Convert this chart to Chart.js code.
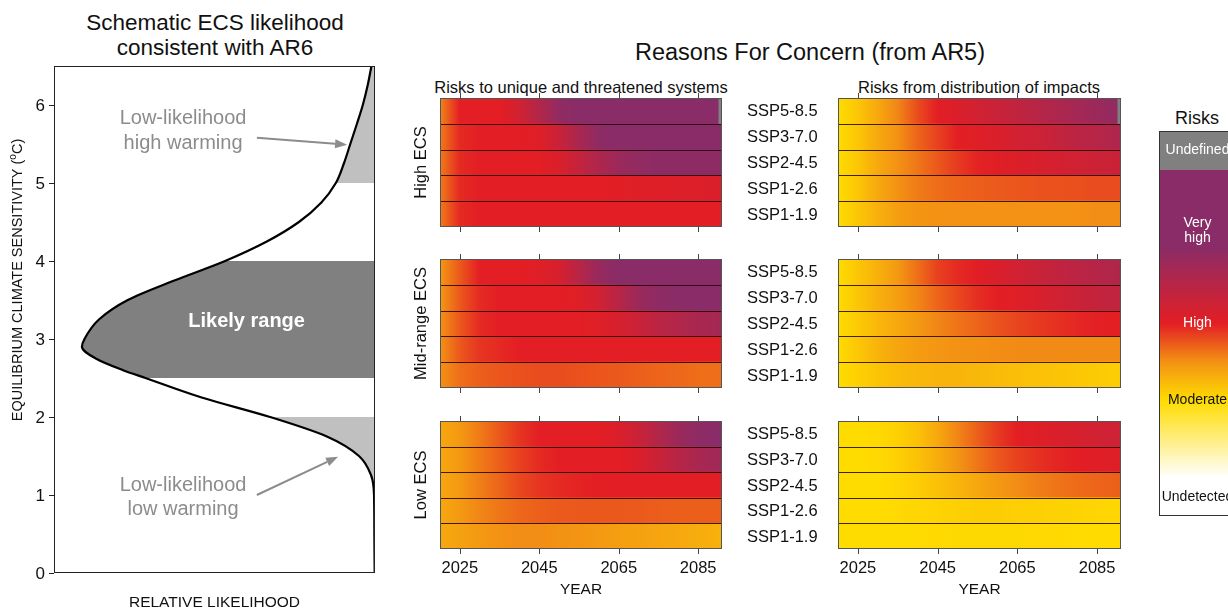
<!DOCTYPE html>
<html lang="en">
<head>
<meta charset="utf-8">
<title>ECS likelihood and Reasons For Concern</title>
<script src="https://cdn.jsdelivr.net/npm/chart.js@4"></script>
<style>
html,body{margin:0;padding:0;background:#fff;overflow:hidden}
#page{position:relative;width:1228px;height:611px;overflow:hidden;font-family:"Liberation Sans",Arial,Helvetica,sans-serif;color:#111}
#page canvas{position:absolute;left:0;top:0}
.t{position:absolute;white-space:nowrap;transform:translate(-50%,-50%);line-height:1}
</style>
</head>
<body>
<div id="page">
	<div class="t" style="left:215px;top:23px;font-size:22.5px">Schematic ECS likelihood</div>
	<div class="t" style="left:215px;top:48px;font-size:22.5px">consistent with AR6</div>
	<div class="t" style="left:810px;top:53px;font-size:23.5px">Reasons For Concern (from AR5)</div>
	<div class="t" style="left:581px;top:87px;font-size:16.5px">Risks to unique and threatened systems</div>
	<div class="t" style="left:979px;top:87px;font-size:16.5px">Risks from distribution of impacts</div>
	<div class="t" style="left:1197px;top:118px;font-size:18px">Risks</div>
</div>
<script>
// ---------------------- Data ----------------------
// left panel: schematic ECS likelihood (relative, 0..1 of panel width)
const ECS_LEVELS = [0, 0.5, 1.0, 1.25, 1.5, 1.75, 2.0, 2.25, 2.5, 2.6, 2.75, 2.9, 3.0, 3.25, 3.5, 3.75, 4.0, 4.25, 4.5, 4.75, 5.0, 5.25, 5.5, 5.75, 6.0, 6.25, 6.5];
const LIKELIHOOD = [0.001, 0.002, 0.003, 0.012, 0.05, 0.15, 0.327, 0.54, 0.715, 0.785, 0.87, 0.913, 0.905, 0.86, 0.77, 0.625, 0.467, 0.337, 0.237, 0.167, 0.122, 0.097, 0.077, 0.057, 0.038, 0.023, 0.011];
const ECS_TICKS = [0, 1, 2, 3, 4, 5, 6];

// Reasons For Concern heatmaps, risk level 0 undetected .. 1 moderate .. 2 high .. 3 very high
const YEARS = [2020, 2025, 2030, 2035, 2040, 2045, 2050, 2055, 2060, 2065, 2070, 2075, 2080, 2085, 2090];
const TICK_YEARS = [2025, 2045, 2065, 2085];
const SSP_LABELS = ['SSP5-8.5', 'SSP3-7.0', 'SSP2-4.5', 'SSP1-2.6', 'SSP1-1.9'];
const ECS_ROWS = ['High ECS', 'Mid-range ECS', 'Low ECS'];

const HIGH_UNIQUE = [
	[1.55, 2.0, 2.0, 2.0, 2.2, 2.55, 2.9, 3.0, 3.0, 3.0, 3.0, 3.0, 3.0, 3.0, 3.0],
	[1.6, 1.95, 2.0, 2.0, 2.0, 2.05, 2.3, 2.65, 2.95, 3.0, 3.0, 3.0, 3.0, 3.0, 3.0],
	[1.6, 1.95, 2.0, 2.0, 2.0, 2.0, 2.1, 2.35, 2.6, 2.8, 2.9, 2.95, 2.95, 2.95, 2.95],
	[1.6, 1.95, 2.0, 2.0, 2.0, 2.0, 2.0, 2.0, 2.0, 2.02, 2.04, 2.05, 2.07, 2.08, 2.1],
	[1.6, 1.95, 2.0, 2.0, 2.0, 2.0, 2.0, 2.0, 2.0, 2.0, 2.0, 2.0, 2.0, 2.0, 2.0],
];
const HIGH_DIST = [
	[1.0, 1.15, 1.35, 1.55, 1.8, 2.0, 2.1, 2.2, 2.3, 2.4, 2.5, 2.6, 2.7, 2.8, 2.9],
	[1.0, 1.15, 1.35, 1.5, 1.7, 1.85, 2.0, 2.05, 2.1, 2.2, 2.25, 2.35, 2.45, 2.5, 2.6],
	[1.0, 1.15, 1.35, 1.5, 1.62, 1.75, 1.88, 1.98, 2.03, 2.08, 2.12, 2.17, 2.22, 2.27, 2.3],
	[1.0, 1.15, 1.35, 1.5, 1.6, 1.66, 1.7, 1.72, 1.74, 1.76, 1.77, 1.78, 1.79, 1.8, 1.8],
	[1.0, 1.15, 1.3, 1.42, 1.48, 1.5, 1.5, 1.5, 1.5, 1.5, 1.5, 1.5, 1.5, 1.52, 1.52],
];
const MID_UNIQUE = [
	[1.45, 1.75, 2.0, 2.0, 2.0, 2.05, 2.15, 2.5, 2.85, 3.0, 3.0, 3.0, 3.0, 3.0, 3.0],
	[1.45, 1.75, 1.95, 2.0, 2.0, 2.0, 2.0, 2.05, 2.2, 2.5, 2.8, 2.95, 3.0, 3.0, 3.0],
	[1.5, 1.75, 1.95, 2.0, 2.0, 2.0, 2.0, 2.0, 2.05, 2.15, 2.3, 2.45, 2.55, 2.65, 2.7],
	[1.5, 1.75, 1.9, 1.95, 2.0, 2.0, 2.0, 2.0, 2.0, 2.0, 2.0, 2.0, 2.0, 2.0, 2.0],
	[1.5, 1.65, 1.72, 1.76, 1.78, 1.8, 1.8, 1.78, 1.76, 1.75, 1.72, 1.7, 1.68, 1.66, 1.65],
];
const MID_DIST = [
	[1.0, 1.15, 1.3, 1.45, 1.65, 1.85, 1.95, 2.02, 2.1, 2.2, 2.3, 2.38, 2.45, 2.52, 2.58],
	[1.0, 1.15, 1.3, 1.42, 1.55, 1.7, 1.82, 1.93, 2.0, 2.05, 2.12, 2.2, 2.28, 2.35, 2.4],
	[1.0, 1.12, 1.25, 1.35, 1.45, 1.55, 1.63, 1.7, 1.77, 1.83, 1.88, 1.92, 1.96, 1.99, 2.0],
	[1.0, 1.14, 1.28, 1.37, 1.43, 1.47, 1.5, 1.51, 1.52, 1.53, 1.53, 1.53, 1.53, 1.53, 1.53],
	[1.0, 1.08, 1.16, 1.22, 1.25, 1.27, 1.27, 1.25, 1.22, 1.2, 1.18, 1.16, 1.14, 1.12, 1.1],
];
const LOW_UNIQUE = [
	[1.35, 1.45, 1.6, 1.75, 1.9, 2.0, 2.0, 2.0, 2.0, 2.1, 2.3, 2.55, 2.8, 2.95, 3.0],
	[1.35, 1.45, 1.6, 1.72, 1.85, 1.95, 2.0, 2.0, 2.0, 2.0, 2.1, 2.3, 2.5, 2.65, 2.75],
	[1.35, 1.45, 1.58, 1.7, 1.82, 1.9, 1.95, 1.98, 2.0, 2.0, 2.0, 2.0, 2.0, 2.0, 2.0],
	[1.35, 1.45, 1.55, 1.62, 1.68, 1.72, 1.74, 1.75, 1.75, 1.75, 1.74, 1.73, 1.72, 1.72, 1.72],
	[1.35, 1.4, 1.45, 1.5, 1.52, 1.52, 1.5, 1.48, 1.45, 1.42, 1.4, 1.37, 1.35, 1.32, 1.3],
];
const LOW_DIST = [
	[1.0, 1.0, 1.02, 1.08, 1.18, 1.35, 1.55, 1.72, 1.88, 2.0, 2.05, 2.1, 2.15, 2.2, 2.25],
	[1.0, 1.0, 1.02, 1.08, 1.18, 1.32, 1.48, 1.62, 1.75, 1.85, 1.92, 1.97, 2.0, 2.03, 2.06],
	[1.0, 1.0, 1.0, 1.04, 1.1, 1.18, 1.27, 1.36, 1.45, 1.52, 1.58, 1.63, 1.67, 1.7, 1.72],
	[1.0, 1.0, 1.0, 1.02, 1.04, 1.06, 1.08, 1.1, 1.1, 1.09, 1.08, 1.07, 1.06, 1.05, 1.04],
	[1.0, 1.0, 1.0, 1.0, 1.01, 1.02, 1.03, 1.03, 1.03, 1.03, 1.02, 1.02, 1.01, 1.01, 1.01],
];
// years from which SSP5-8.5 is undefined (top panels only)
const UNDEFINED_FROM = [2090.2, 2090.2, null, null, null, null];

// risk colour scale
const RISK_LEVELS = [0, 1, 1.5, 2, 2.5, 3];
const RISK_RGB = [[255, 255, 255], [255, 220, 0], [243, 146, 20], [227, 30, 36], [183, 37, 70], [137, 44, 104]];
const CB_LABELS = ['Undefined', 'Very\nhigh', 'High', 'Moderate', 'Undetected'];
const CB_LABEL_LEVELS = [4.25, 3.2, 2.0, 1.0, -0.25];
// -----------------------------------------------------------

const W = 1240, H = 611;
const YEAR_MIN = 2020, YEAR_MAX = 2091;
const FONT = '"Liberation Sans", Arial, Helvetica, sans-serif';
const UNDEF_COLOR = '#808080';

Chart.defaults.animation = false;
Chart.defaults.events = [];
Chart.defaults.plugins.legend.display = false;
Chart.defaults.plugins.tooltip.enabled = false;

function addCanvas() {
	const c = document.createElement('canvas');
	c.width = W; c.height = H;
	c.style.width = W + 'px'; c.style.height = H + 'px';
	document.getElementById('page').appendChild(c);
	return c;
}
const pad = (r) => ({ left: r[0], top: r[1], right: W - r[2], bottom: H - r[3] });

function riskColor(v) {
	if (v <= RISK_LEVELS[0]) return `rgb(${RISK_RGB[0]})`;
	for (let i = 1; i < RISK_LEVELS.length; i++) {
		if (v <= RISK_LEVELS[i]) {
			const f = (v - RISK_LEVELS[i - 1]) / (RISK_LEVELS[i] - RISK_LEVELS[i - 1]);
			const a = RISK_RGB[i - 1], b = RISK_RGB[i];
			return `rgb(${a.map((c, k) => Math.round(c + (b[k] - c) * f)).join(',')})`;
		}
	}
	return `rgb(${RISK_RGB[RISK_RGB.length - 1]})`;
}

function hline(ctx, x1, x2, y) { ctx.beginPath(); ctx.moveTo(x1, y); ctx.lineTo(x2, y); ctx.stroke(); }
function vline(ctx, x, y1, y2) { ctx.beginPath(); ctx.moveTo(x, y1); ctx.lineTo(x, y2); ctx.stroke(); }

function arrow(ctx, x1, y1, x2, y2, color) {
	const ang = Math.atan2(y2 - y1, x2 - x1), head = 12, hw = 4.5;
	const bx = x2 - head * Math.cos(ang), by = y2 - head * Math.sin(ang);
	ctx.strokeStyle = color; ctx.lineWidth = 2;
	ctx.beginPath(); ctx.moveTo(x1, y1); ctx.lineTo(bx, by); ctx.stroke();
	ctx.fillStyle = color;
	ctx.beginPath(); ctx.moveTo(x2, y2);
	ctx.lineTo(bx + hw * Math.sin(ang), by - hw * Math.cos(ang));
	ctx.lineTo(bx - hw * Math.sin(ang), by + hw * Math.cos(ang));
	ctx.closePath(); ctx.fill();
}

// ---------------- Left panel: ECS likelihood ----------------
const curve = ECS_LEVELS.map((v, i) => ({ x: LIKELIHOOD[i], y: v }));
const band = (lo, hi) => curve.filter((p) => p.y >= lo && p.y <= hi);

const ecsFrame = {
	id: 'ecsFrame',
	afterDatasetsDraw(chart, args, o) {
		const { ctx, chartArea: a, scales: { x, y } } = chart;
		ctx.save();
		ctx.strokeStyle = '#222'; ctx.lineWidth = 1;
		ctx.strokeRect(a.left + 0.5, a.top + 0.5, a.width - 1, a.height - 1);
		ctx.fillStyle = '#111';
		ctx.font = `17px ${FONT}`;
		ctx.textAlign = 'right'; ctx.textBaseline = 'middle';
		ECS_TICKS.forEach((v) => {
			const py = Math.round(y.getPixelForValue(v)) + 0.5;
			hline(ctx, a.left - 5, a.left, py);
			ctx.fillText(String(v), a.left - 9, py + 1);
		});
		// rotated axis title with superscript o
		ctx.save();
		ctx.translate(18, 280);
		ctx.rotate(-Math.PI / 2);
		ctx.textAlign = 'left';
		const big = `14.5px ${FONT}`, small = `10px ${FONT}`;
		const p1 = 'EQUILIBRIUM CLIMATE SENSITIVITY (', p2 = 'o', p3 = 'C)';
		ctx.font = big; const w1 = ctx.measureText(p1).width, w3 = ctx.measureText(p3).width;
		ctx.font = small; const w2 = ctx.measureText(p2).width;
		let sx = -(w1 + w2 + w3) / 2;
		ctx.font = big; ctx.fillText(p1, sx, 0); sx += w1;
		ctx.font = small; ctx.fillText(p2, sx, -5); sx += w2;
		ctx.font = big; ctx.fillText(p3, sx, 0);
		ctx.restore();
		ctx.textAlign = 'center';
		ctx.font = `15.5px ${FONT}`;
		ctx.fillText('RELATIVE LIKELIHOOD', (a.left + a.right) / 2, 603);
		// annotations
		ctx.font = `20px ${FONT}`;
		ctx.fillStyle = o.noteColor;
		o.notes.forEach((n) => ctx.fillText(n.text, x.getPixelForValue(n.at[0]), y.getPixelForValue(n.at[1])));
		o.arrows.forEach((r) => arrow(ctx, x.getPixelForValue(r[0]), y.getPixelForValue(r[1]),
			x.getPixelForValue(r[2]), y.getPixelForValue(r[3]), o.noteColor));
		ctx.font = `bold 20px ${FONT}`;
		ctx.fillStyle = '#fff';
		ctx.fillText('Likely range', x.getPixelForValue(o.likely[0]), y.getPixelForValue(o.likely[1]));
		ctx.restore();
	},
};

const areaStyle = { borderWidth: 0, pointRadius: 0, fill: 'origin', cubicInterpolationMode: 'monotone' };
new Chart(addCanvas(), {
	type: 'line',
	data: {
		datasets: [
			{ data: curve, borderColor: '#000', borderWidth: 2.2, pointRadius: 0, fill: false, cubicInterpolationMode: 'monotone' },
			{ ...areaStyle, data: band(2.5, 4.0), backgroundColor: '#808080' },
			{ ...areaStyle, data: band(1.0, 2.0), backgroundColor: '#c0c0c0' },
			{ ...areaStyle, data: band(5.0, 6.5), backgroundColor: '#c0c0c0' },
		],
	},
	options: {
		responsive: false,
		indexAxis: 'y',
		layout: { padding: pad([54, 66, 375, 573]) },
		scales: {
			x: { type: 'linear', min: 0, max: 1, reverse: true, display: false },
			y: { type: 'linear', min: 0, max: 6.5, display: false },
		},
		plugins: {
			ecsFrame: {
				noteColor: '#8c8c8c',
				notes: [
					{ text: 'Low-likelihood', at: [0.598, 5.83] },
					{ text: 'high warming', at: [0.598, 5.51] },
					{ text: 'Low-likelihood', at: [0.598, 1.12] },
					{ text: 'low warming', at: [0.598, 0.81] },
				],
				arrows: [[0.368, 5.58, 0.087, 5.49], [0.368, 1.0, 0.115, 1.49]],
				likely: [0.40, 3.22],
			},
		},
	},
	plugins: [ecsFrame],
});

// ---------------- Heatmap panels ----------------
const panelFrame = {
	id: 'panelFrame',
	afterDatasetsDraw(chart, args, o) {
		const { ctx, chartArea: a, scales: { x, y } } = chart;
		ctx.save();
		ctx.lineWidth = 1;
		ctx.strokeStyle = 'rgba(30,5,5,0.85)';
		for (let i = 0; i < SSP_LABELS.length - 1; i++) {
			const py = Math.round((y.getPixelForValue(i) + y.getPixelForValue(i + 1)) / 2) + 0.5;
			hline(ctx, a.left, a.right, py);
		}
		ctx.strokeStyle = '#555';
		ctx.strokeRect(a.left + 0.5, a.top + 0.5, a.width - 1, a.height - 1);
		ctx.strokeStyle = '#444';
		TICK_YEARS.forEach((yr) => {
			const px = Math.round(x.getPixelForValue(yr)) + 0.5;
			vline(ctx, px, a.top - 5, a.top);
			vline(ctx, px, a.bottom, a.bottom + 5);
		});
		ctx.fillStyle = '#111';
		ctx.textBaseline = 'middle';
		if (o.tickLabels) {
			ctx.textAlign = 'center';
			ctx.font = `16.5px ${FONT}`;
			TICK_YEARS.forEach((yr) => ctx.fillText(String(yr), x.getPixelForValue(yr), a.bottom + 19));
			ctx.font = `15.5px ${FONT}`;
			ctx.fillText('YEAR', (a.left + a.right) / 2, a.bottom + 41);
		}
		if (o.sspLabels) {
			ctx.textAlign = 'left';
			ctx.font = `16.5px ${FONT}`;
			SSP_LABELS.forEach((s, i) => ctx.fillText(s, 747, y.getPixelForValue(i) + 1));
		}
		if (o.rowTitle) {
			ctx.save();
			ctx.translate(421, (a.top + a.bottom) / 2);
			ctx.rotate(-Math.PI / 2);
			ctx.textAlign = 'center';
			ctx.font = `16.5px ${FONT}`;
			ctx.fillText(o.rowTitle, 0, 0);
			ctx.restore();
		}
		ctx.restore();
	},
};

function rowGradient(c, rows) {
	const chart = c.chart, xs = chart.scales.x;
	if (!xs || !chart.chartArea) return riskColor(1);
	const vals = rows[c.dataIndex];
	const x0 = xs.getPixelForValue(YEARS[0]), x1 = xs.getPixelForValue(YEARS[YEARS.length - 1]);
	const g = chart.ctx.createLinearGradient(x0, 0, x1, 0);
	vals.forEach((v, i) => g.addColorStop((YEARS[i] - YEARS[0]) / (YEARS[YEARS.length - 1] - YEARS[0]), riskColor(v)));
	return g;
}

const PANELS = [HIGH_UNIQUE, HIGH_DIST, MID_UNIQUE, MID_DIST, LOW_UNIQUE, LOW_DIST];
const COL_X = [[440, 722], [838, 1121]];
const ROW_Y = [[98, 227], [259, 388], [421, 549]];

PANELS.forEach((rows, k) => {
	const row = Math.floor(k / 2), col = k % 2;
	const rect = [COL_X[col][0], ROW_Y[row][0], COL_X[col][1], ROW_Y[row][1]];
	const undefFrom = UNDEFINED_FROM[k];
	const barStyle = { grouped: false, barPercentage: 1, categoryPercentage: 1, borderWidth: 0 };
	new Chart(addCanvas(), {
		type: 'bar',
		data: {
			labels: SSP_LABELS,
			datasets: [
				{ ...barStyle, data: SSP_LABELS.map((s, i) => (undefFrom && i === 0 ? [undefFrom, YEAR_MAX] : null)), backgroundColor: UNDEF_COLOR },
				{ ...barStyle, data: SSP_LABELS.map(() => [YEAR_MIN, YEAR_MAX]), backgroundColor: (c) => rowGradient(c, rows) },
			],
		},
		options: {
			responsive: false,
			indexAxis: 'y',
			layout: { padding: pad(rect) },
			scales: {
				x: { type: 'linear', min: YEAR_MIN, max: YEAR_MAX, display: false },
				y: { display: false },
			},
			plugins: {
				panelFrame: {
					tickLabels: row === 2,
					sspLabels: col === 0,
					rowTitle: col === 0 ? ECS_ROWS[row] : null,
				},
			},
		},
		plugins: [panelFrame],
	});
});

// ---------------- Colour bar ----------------
const cbFrame = {
	id: 'cbFrame',
	afterDatasetsDraw(chart) {
		const { ctx, chartArea: a, scales: { x, y } } = chart;
		ctx.save();
		ctx.strokeStyle = '#333'; ctx.lineWidth = 1;
		ctx.strokeRect(a.left + 0.5, a.top + 0.5, a.width - 1, a.height - 1);
		ctx.font = `14px ${FONT}`;
		ctx.textAlign = 'center'; ctx.textBaseline = 'middle';
		const cx = x.getPixelForValue(0);
		CB_LABELS.forEach((t, i) => {
			const lv = CB_LABEL_LEVELS[i];
			ctx.fillStyle = lv > 1.5 ? '#fff' : '#111';
			const lines = t.split('\n');
			lines.forEach((ln, j) => ctx.fillText(ln, cx, y.getPixelForValue(lv) + (j - (lines.length - 1) / 2) * 15));
		});
		ctx.restore();
	},
};

function barGradient(c) {
	const chart = c.chart, ys = chart.scales.y;
	if (!ys || !chart.chartArea) return riskColor(1);
	const lo = -0.5, hi = 4.0;
	const g = chart.ctx.createLinearGradient(0, ys.getPixelForValue(lo), 0, ys.getPixelForValue(hi));
	g.addColorStop(0, riskColor(0));
	RISK_LEVELS.forEach((lv) => g.addColorStop((lv - lo) / (hi - lo), riskColor(lv)));
	g.addColorStop(1, riskColor(3));
	return g;
}

const cbStyle = { grouped: false, barPercentage: 1, categoryPercentage: 1, borderWidth: 0 };
new Chart(addCanvas(), {
	type: 'bar',
	data: {
		labels: ['Risks'],
		datasets: [
			{ ...cbStyle, data: [[4.0, 4.5]], backgroundColor: UNDEF_COLOR },
			{ ...cbStyle, data: [[-0.5, 4.0]], backgroundColor: barGradient },
		],
	},
	options: {
		responsive: false,
		layout: { padding: pad([1159, 131, 1236, 516]) },
		scales: {
			x: { display: false },
			y: { type: 'linear', min: -0.5, max: 4.5, display: false },
		},
	},
	plugins: [cbFrame],
});
</script>
</body>
</html>
